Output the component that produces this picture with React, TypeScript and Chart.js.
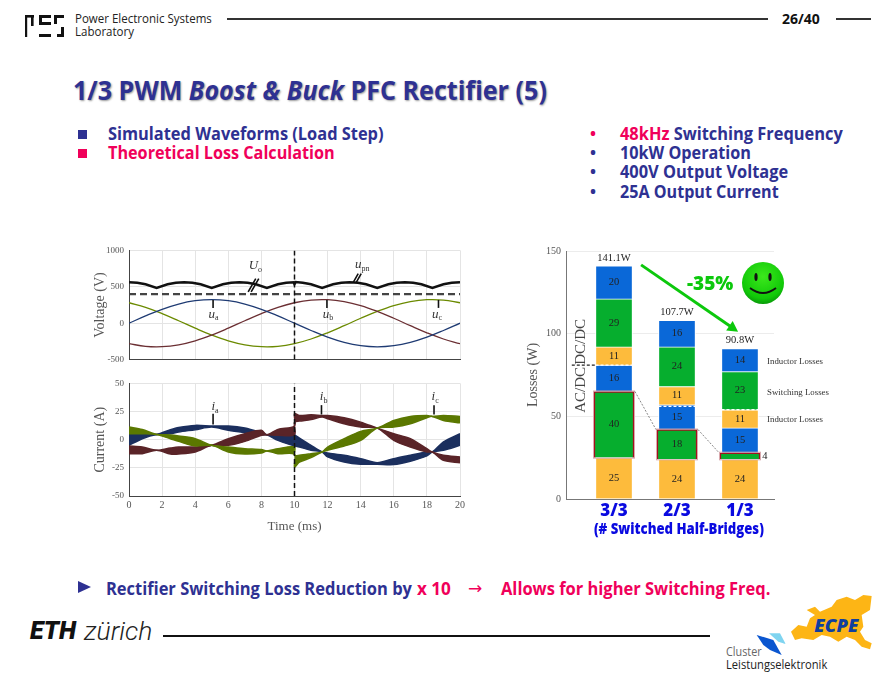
import { useEffect, useRef } from "react"
import Chart from "chart.js/auto"

const SERIF = "'Liberation Serif', serif"
const SANS = "'Open Sans', sans-serif"
const NAVY = "#2E3192"
const PINK = "#F0005A"
const AXIS_TEXT = "#555"

// waveforms (ms, V)
const voltageTimes = [0, 1, 2, 3, 4, 5, 6, 7, 8, 9, 10, 11, 12, 13, 14, 15, 16, 17, 18, 19, 20]
const ua = [0, 100, 191, 263, 309, 325, 309, 263, 191, 100, 0, -100, -191, -263, -309, -325, -309, -263, -191, -100, 0]
const ub = [-281, -318, -323, -297, -242, -163, -68, 34, 132, 217, 281, 318, 323, 297, 242, 163, 68, -34, -132, -217, -281]
const uc = [281, 217, 132, 34, -68, -163, -242, -297, -323, -318, -281, -217, -132, -34, 68, 163, 242, 297, 323, 318, 281]
const upnTimes = [0, 0.5, 1, 1.67, 2.33, 2.83, 3.33, 3.83, 4.33, 5, 5.67, 6.17, 6.67, 7.17, 7.67, 8.33, 9, 9.5, 9.95, 10, 10.08, 10.5, 11, 11.67, 12.33, 12.83, 13.33, 13.83, 14.33, 15, 15.67, 16.17, 16.67, 17.17, 17.67, 18.33, 19, 19.5, 20]
const upn = [563, 556, 535, 485, 535, 556, 563, 556, 535, 485, 535, 556, 563, 556, 535, 485, 535, 556, 563, 535, 566, 556, 535, 485, 535, 556, 563, 556, 535, 485, 535, 556, 563, 556, 535, 485, 535, 556, 563]
const uoTimes = [0, 20]
const uo = [400, 400]

// current envelopes (ms, A)
const currentTimes = [0, 0.8, 1.67, 2.5, 3, 4, 5, 6, 7, 8, 8.33, 9, 10, 10, 10.3, 11, 11.67, 12, 13, 14, 15, 16, 17, 18, 18.33, 19, 20]
const iaHigh = [5.3, 5.3, 4.7, 8.9, 10.9, 12.7, 12.1, 12.1, 10.3, 6.2, 4.4, 5.3, 4.4, 4.4, 1.5, -5, -10.9, -11.8, -13.8, -16.8, -20.4, -16.8, -13.8, -10.9, -10.9, -2, 5.3]
const iaLow = [-5, 0.9, 4.7, 5.3, 6.8, 8.9, 11.2, 8.3, 6.2, 4.4, 4.4, -0.6, -5.6, -5.6, -6.5, -9.4, -10.9, -15.3, -19.8, -21.8, -21.8, -22.1, -19.1, -14.4, -10.9, -9.4, -5]
const icHigh = [11.2, 9, 4.7, 4.2, 3.3, 0.9, -5, -6.5, -8, -8.8, -10, -8, -6.5, -13.8, -13.8, -12.4, -10.9, -6.5, 0.9, 7.4, 10.3, 17.1, 20.7, 21.5, 20.7, 21.5, 20.7]
const icLow = [5.3, 5.3, 4.7, 0.9, -1.5, -5.6, -5, -10.9, -12.7, -11.8, -10, -12.4, -13, -24.2, -20, -15.9, -10.9, -9.4, -5.6, -0.6, 10.3, 11.2, 14.2, 19.5, 20.7, 17.1, 15]
const ibHigh = [-5.6, -6.5, -9.4, -7.4, -6.5, -6.5, -5, 0.9, 5.3, 8.3, 4.4, 9.2, 12.1, 23, 21.5, 22.1, 21.5, 21.5, 19.5, 15.6, 10.3, 5.3, 0.9, -8, -10.9, -13.8, -15.3]
const ibLow = [-12.4, -12.4, -9.4, -12.7, -12.7, -10.9, -5, -5, -1.5, 3.9, 4.4, 3.9, 4.4, 15.6, 16.5, 18, 20.1, 18.6, 14.2, 11.2, 10.3, -0.6, -6.5, -10.9, -10.9, -18.3, -20.4]

// loss bars (W)
const barCategories = ["3/3", "2/3", "1/3"]
const barPositions = [1, 2, 3]
const rectifierInductor = [25, 24, 24]
const rectifierSwitching = [40, 18, 4]
const rectifierOther = [16, 15, 15]
const dcdcInductor = [11, 11, 11]
const dcdcSwitching = [29, 24, 23]
const dcdcOther = [20, 16, 14]
const barTotals = ["141.1W", "107.7W", "90.8W"]
const acDcBoundary = [81, 56, 54]

// [text, subscript, t, value, lead t0, lead v0, lead t1, lead v1]
const voltageNotes: any[] = [
  ["U", "o", 7.8, 790, 7.2, 430, 7.66, 613],
  ["u", "pn", 14.05, 800, 13.55, 562, 13.85, 680],
  ["u", "a", 5.2, 122, 5.08, 320, 5.08, 210],
  ["u", "b", 12.1, 122, 11.96, 320, 11.96, 210],
  ["u", "c", 18.7, 122, 18.7, 320, 18.7, 210],
]
const currentNotes: any[] = [
  ["i", "a", 5.2, 29, 5.08, 13.5, 5.08, 23],
  ["i", "b", 11.75, 38, 11.63, 22.4, 11.63, 30.7],
  ["i", "c", 18.5, 38, 18.43, 22.4, 18.43, 30.7],
]

const zip = (xs: number[], ys: number[]) => xs.map((x, i) => ({ x, y: ys[i] }))

function drawNotes(chart: any, notes: any[]) {
  const { ctx, scales } = chart
  ctx.save()
  ctx.textBaseline = "middle"
  ctx.textAlign = "left"
  ctx.fillStyle = "#333"
  ctx.strokeStyle = "#111"
  for (const [main, sub, t, v, t0, v0, t1, v1] of notes) {
    const x = scales.x.getPixelForValue(t)
    const y = scales.y.getPixelForValue(v)
    ctx.font = `italic 13px ${SERIF}`
    const w = ctx.measureText(main).width
    ctx.fillText(main, x - w, y)
    ctx.font = `8px ${SERIF}`
    ctx.fillText(sub, x, y + 4)
    const ax = scales.x.getPixelForValue(t0)
    const ay = scales.y.getPixelForValue(v0)
    const bx = scales.x.getPixelForValue(t1)
    const by = scales.y.getPixelForValue(v1)
    ctx.lineWidth = 1.6
    ctx.beginPath()
    ctx.moveTo(ax, ay)
    ctx.lineTo(bx, by)
    if (t0 !== t1) {
      // the slanted leads are doubled in the source
      ctx.moveTo(ax + 3, ay)
      ctx.lineTo(bx + 3, by)
    }
    ctx.stroke()
  }
  ctx.restore()
}

function waveformScales(yMin: number, yMax: number, yStep: number, yTitle: string, showX: boolean, bottom: number, yWidth: number) {
  return {
    x: {
      type: "linear",
      min: 0,
      max: 20,
      ticks: { stepSize: 2, display: showX, color: AXIS_TEXT, font: { family: SERIF, size: 10 }, maxRotation: 0, padding: 3 },
      grid: { color: "#e4e4e4", drawTicks: false },
      border: { color: "#444" },
      title: { display: showX, text: "Time (ms)", color: AXIS_TEXT, font: { family: SERIF, size: 13 }, padding: { top: 4, bottom: 4 } },
      afterFit: (s: any) => { s.height = bottom },
    },
    y: {
      min: yMin,
      max: yMax,
      ticks: { stepSize: yStep, color: AXIS_TEXT, font: { family: SERIF, size: 9 }, padding: 5, callback: (v: number) => String(v) },
      grid: { color: "#e4e4e4", drawTicks: false },
      border: { color: "#444" },
      title: { display: true, text: yTitle, color: AXIS_TEXT, font: { family: SERIF, size: 14 }, padding: { top: 7, bottom: 0 } },
      afterFit: (s: any) => { s.width = yWidth },
    },
  }
}

const baseOptions = {
  responsive: false,
  animation: false,
  plugins: { legend: { display: false }, tooltip: { enabled: false } },
  elements: { point: { radius: 0 } },
}

function voltageConfig(): any {
  const line = (data: any[], color: string, width: number, extra = {}) => ({
    data,
    borderColor: color,
    borderWidth: width,
    pointRadius: 0,
    ...extra,
  })
  return {
    type: "line",
    data: {
      datasets: [
        line(zip([10, 10], [-500, 1000]), "#111", 1.5, { borderDash: [5, 3] }),
        line(zip(upnTimes, upn), "#111", 2.4),
        line(zip(uoTimes, uo), "#444", 2.2, { borderDash: [7, 4] }),
        line(zip(voltageTimes, ua), "#1F3B73", 1.3, { tension: 0.4 }),
        line(zip(voltageTimes, ub), "#6B2F33", 1.3, { tension: 0.4 }),
        line(zip(voltageTimes, uc), "#6B8A00", 1.3, { tension: 0.4 }),
      ],
    },
    options: {
      ...baseOptions,
      layout: { padding: { top: 10, right: 10, left: 0, bottom: 0 } },
      scales: waveformScales(-500, 1000, 500, "Voltage (V)", false, 6, 44),
    },
    plugins: [{ id: "notes", afterDatasetsDraw: (c: any) => drawNotes(c, voltageNotes) }],
  }
}

function currentConfig(): any {
  const band = (low: number[], high: number[], color: string) => [
    { data: zip(currentTimes, low), borderWidth: 1.5, borderColor: color, pointRadius: 0, fill: false, tension: 0.3 },
    { data: zip(currentTimes, high), borderWidth: 1.5, borderColor: color, backgroundColor: color, pointRadius: 0, fill: "-1", tension: 0.3 },
  ]
  return {
    type: "line",
    data: {
      datasets: [
        { data: zip([10, 10], [-50, 50]), borderColor: "#111", borderWidth: 1.5, borderDash: [5, 3], pointRadius: 0, fill: false },
        ...band(icLow, icHigh, "#5B7800"),
        ...band(ibLow, ibHigh, "#5A2428"),
        ...band(iaLow, iaHigh, "#1B2F5E"),
      ],
    },
    options: {
      ...baseOptions,
      layout: { padding: { top: 10, right: 10, left: 0, bottom: 0 } },
      scales: waveformScales(-50, 50, 25, "Current (A)", true, 42, 44),
    },
    plugins: [{ id: "notes", afterDatasetsDraw: (c: any) => drawNotes(c, currentNotes) }],
  }
}

function barOverlay(chart: any) {
  const { ctx, scales } = chart
  const px = (v: number) => scales.x.getPixelForValue(v)
  const py = (v: number) => scales.y.getPixelForValue(v)
  const stacks = [rectifierInductor, rectifierSwitching, rectifierOther, dcdcInductor, dcdcSwitching, dcdcOther]
  const halfBar = 18.5

  ctx.save()
  ctx.textAlign = "center"
  ctx.textBaseline = "middle"
  ctx.fillStyle = "#222"
  ctx.font = `10.5px ${SERIF}`
  barPositions.forEach((pos, i) => {
    let base = 0
    for (const stack of stacks) {
      const value = stack[i]
      const y = py(base + value / 2)
      if (value < 8) ctx.fillText(String(value), px(pos) + 25, y)
      else ctx.fillText(String(value), px(pos), y)
      base += value
    }
    ctx.fillText(barTotals[i], px(pos), py(base) - 8)
  })

  // pale edge round the rectifier switching boxes and the dotted links between them
  const meta = chart.getDatasetMeta(1)
  ctx.strokeStyle = "#d9a9ad"
  ctx.lineWidth = 1
  meta.data.forEach((bar: any) => {
    ctx.strokeRect(bar.x - 20.5, bar.y - 0.5, 41, bar.base - bar.y + 1)
  })
  ctx.strokeStyle = "#555"
  ctx.lineWidth = 0.7
  ctx.setLineDash([2, 1.5])
  for (let i = 0; i < 2; i++) {
    ctx.beginPath()
    ctx.moveTo(meta.data[i].x + 21, meta.data[i].y)
    ctx.lineTo(meta.data[i + 1].x - 21, meta.data[i + 1].y)
    ctx.stroke()
  }

  // AC/DC | DC/DC split
  ctx.strokeStyle = "#222"
  ctx.lineWidth = 1.2
  ctx.setLineDash([3, 2])
  ctx.beginPath()
  ctx.moveTo(px(0.33), py(acDcBoundary[0]))
  ctx.lineTo(px(1) - halfBar, py(acDcBoundary[0]))
  ctx.stroke()
  ctx.strokeStyle = "#fff"
  barPositions.forEach((pos, i) => {
    ctx.beginPath()
    ctx.moveTo(px(pos) - halfBar, py(acDcBoundary[i]))
    ctx.lineTo(px(pos) + halfBar, py(acDcBoundary[i]))
    ctx.stroke()
  })
  ctx.setLineDash([])

  ctx.fillStyle = "#444"
  ctx.font = `15px ${SERIF}`
  for (const [text, v] of [["DC/DC", 95], ["AC/DC", 66]] as [string, number][]) {
    ctx.save()
    ctx.translate(px(0.47), py(v))
    ctx.rotate(-Math.PI / 2)
    ctx.fillText(text, 0, 0)
    ctx.restore()
  }

  ctx.textAlign = "left"
  ctx.fillStyle = "#333"
  ctx.font = `8.8px ${SERIF}`
  ctx.fillText("Inductor Losses", px(3.43), py(83.3))
  ctx.fillText("Switching Losses", px(3.43), py(64.6))
  ctx.fillText("Inductor Losses", px(3.43), py(47.8))

  // reduction arrow
  const x0 = px(1.43)
  const y0 = py(141.6)
  const x1 = px(2.97)
  const y1 = py(101.2)
  const a = Math.atan2(y1 - y0, x1 - x0)
  ctx.strokeStyle = "#0CC80C"
  ctx.fillStyle = "#0CC80C"
  ctx.lineWidth = 3
  ctx.beginPath()
  ctx.moveTo(x0, y0)
  ctx.lineTo(x1 - 6 * Math.cos(a), y1 - 6 * Math.sin(a))
  ctx.stroke()
  ctx.beginPath()
  ctx.moveTo(x1, y1)
  ctx.lineTo(x1 - 12 * Math.cos(a - 0.5), y1 - 12 * Math.sin(a - 0.5))
  ctx.lineTo(x1 - 12 * Math.cos(a + 0.5), y1 - 12 * Math.sin(a + 0.5))
  ctx.closePath()
  ctx.fill()

  ctx.textAlign = "center"
  ctx.fillStyle = "#0A0AE0"
  ctx.font = `800 15px ${SANS}`
  ctx.fillText("(# Switched Half-Bridges)", px(2.03), py(-18.7), 170)
  ctx.restore()
}

function barConfig(): any {
  const segment = (values: number[], color: string, extra = {}) => ({
    data: zip(barPositions, values),
    backgroundColor: color,
    borderColor: "#fff",
    borderWidth: 1,
    barThickness: 37,
    ...extra,
  })
  return {
    type: "bar",
    data: {
      datasets: [
        segment(rectifierInductor, "#FDBB3C"),
        segment(rectifierSwitching, "#06AE2E", { borderColor: "#A50F1E", borderWidth: 1.5, barThickness: 40 }),
        segment(rectifierOther, "#0A68D8"),
        segment(dcdcInductor, "#FDBB3C"),
        segment(dcdcSwitching, "#06AE2E"),
        segment(dcdcOther, "#0A68D8"),
      ],
    },
    options: {
      ...baseOptions,
      layout: { padding: { top: 10, right: 86, left: 0, bottom: 0 } },
      scales: {
        x: {
          type: "linear",
          stacked: true,
          offset: false,
          min: 0.238,
          max: 3.54,
          afterBuildTicks: (s: any) => { s.ticks = barPositions.map((value) => ({ value })) },
          ticks: {
            autoSkip: false,
            maxRotation: 0,
            padding: 2,
            color: "#0A0AE0",
            font: { family: SANS, size: 17, weight: "800" },
            callback: (v: number) => barCategories[barPositions.indexOf(v)],
          },
          grid: { display: false, drawTicks: false },
          border: { color: "#777" },
          afterFit: (s: any) => { s.height = 46 },
        },
        y: {
          stacked: true,
          min: 0,
          max: 150,
          ticks: { stepSize: 50, color: AXIS_TEXT, font: { family: SERIF, size: 10 }, padding: 5 },
          grid: { color: "#ececec", drawTicks: false },
          border: { color: "#777" },
          title: { display: true, text: "Losses (W)", color: AXIS_TEXT, font: { family: SERIF, size: 14 }, padding: { top: 5, bottom: 0 } },
          afterFit: (s: any) => { s.width = 46 },
        },
      },
    },
    plugins: [{ id: "overlay", afterDatasetsDraw: barOverlay }],
  }
}

function ChartCanvas({ left, top, width, height, config }: any) {
  const ref = useRef<HTMLCanvasElement>(null)
  useEffect(() => {
    const chart = new Chart(ref.current!, config())
    return () => chart.destroy()
  }, [config])
  return <canvas ref={ref} width={width} height={height} style={{ position: "absolute", left, top, width, height }} />
}

function Txt({ x, y, size, color = NAVY, weight = 700, sx = 1, italic = false, family = SANS, shadow, children }: any) {
  return (
    <div
      style={{
        position: "absolute",
        left: x,
        top: y,
        transform: `translateY(-50%) scaleX(${sx})`,
        transformOrigin: "left center",
        fontFamily: family,
        fontSize: size,
        fontWeight: weight,
        fontStyle: italic ? "italic" : "normal",
        color,
        lineHeight: 1,
        whiteSpace: "nowrap",
        textShadow: shadow,
      }}
    >
      {children}
    </div>
  )
}

function Box({ x, y, w, h, color }: any) {
  return <div style={{ position: "absolute", left: x, top: y, width: w, height: h, background: color }} />
}

function PesLogo() {
  const bars = [
    [25, 15, 9, 2.6], [25, 15, 2.2, 22], [31, 15, 2.6, 11],
    [39, 15, 12, 3], [39, 15, 3, 9], [39, 22, 12, 3], [39, 34, 12, 3],
    [54, 15, 10, 3], [54, 15, 3, 9], [57, 34, 7, 3], [61, 27, 3, 10],
  ]
  return (
    <svg style={{ position: "absolute", left: 0, top: 0 }} width={80} height={45} viewBox="0 0 80 45">
      {bars.map(([x, y, w, h], i) => <rect key={i} x={x} y={y} width={w} height={h} fill="#111" />)}
    </svg>
  )
}

function Smiley() {
  return (
    <svg style={{ position: "absolute", left: 741, top: 261 }} width={44} height={44} viewBox="0 0 44 44">
      <defs>
        <radialGradient id="face" cx="50%" cy="35%" r="65%">
          <stop offset="0%" stopColor="#3CE81C" />
          <stop offset="80%" stopColor="#10C808" />
          <stop offset="100%" stopColor="#0A9A0A" />
        </radialGradient>
      </defs>
      <circle cx={22} cy={22} r={21} fill="url(#face)" />
      <ellipse cx={15} cy={16} rx={1.6} ry={4} fill="#111" />
      <ellipse cx={29} cy={16} rx={1.6} ry={4} fill="#111" />
      <path d="M9 27 Q22 37 35 27" stroke="#111" strokeWidth={1.8} fill="none" />
    </svg>
  )
}

function ClusterLogo() {
  return (
    <svg style={{ position: "absolute", left: 715, top: 590 }} width={168} height={85} viewBox="0 0 504 255">
      <path
        d="M228 125 L250 105 L275 110 L285 85 L300 75 L275 60 L300 50 L315 65 L350 50 L365 30 L395 20 L420 30 L445 15 L470 18 L465 60 L440 75 L445 110 L435 125 L450 150 L470 160 L465 178 L440 170 L420 150 L395 140 L370 155 L345 140 L320 135 L295 150 L260 145 L240 150 Z"
        fill="#FDB515"
      />
      <path d="M125 135 L175 150 L200 195 L165 180 L145 165 Z" fill="#0A56D0" />
      <path d="M162 130 L195 130 L212 162 L190 155 Z" fill="#7FD4F0" />
      <text x={298} y={125} fontFamily={SANS} fontSize={52} fontWeight={800} fontStyle="italic" fill="#0F3F9F" textLength={132} lengthAdjust="spacingAndGlyphs">ECPE</text>
    </svg>
  )
}

export default function App() {
  return (
    <div style={{ position: "absolute", left: 0, top: 0, width: 883, height: 681, background: "#fff", overflow: "hidden" }}>
      <PesLogo />
      <Txt x={75} y={19} size={12} color="#222" weight={400} sx={0.96}>Power Electronic Systems</Txt>
      <Txt x={75} y={32} size={12} color="#222" weight={400} sx={0.96}>Laboratory</Txt>
      <Box x={227} y={18} w={541} h={2} color="#333" />
      <Txt x={782} y={19} size={14} color="#111" sx={1}>26/40</Txt>
      <Box x={836} y={18} w={35} h={2} color="#333" />

      <Txt x={73} y={89} size={27} sx={0.93} shadow="1px 1px 2px #999">
        1/3 PWM <i>Boost &amp; Buck</i> PFC Rectifier (5)
      </Txt>

      <Box x={78} y={130} w={9} h={9} color={NAVY} />
      <Txt x={108} y={133} size={18} sx={0.91}>Simulated Waveforms (Load Step)</Txt>
      <Box x={78} y={149} w={9} h={9} color={PINK} />
      <Txt x={108} y={152} size={18} color={PINK} sx={0.9}>Theoretical Loss Calculation</Txt>

      <Txt x={590} y={133} size={16} color={PINK}>•</Txt>
      <Txt x={620} y={133} size={18} sx={0.91}><span style={{ color: PINK }}>48kHz</span> Switching Frequency</Txt>
      <Txt x={590} y={152} size={16}>•</Txt>
      <Txt x={620} y={152} size={18} sx={0.9}>10kW Operation</Txt>
      <Txt x={590} y={171} size={16}>•</Txt>
      <Txt x={620} y={171} size={18} sx={0.91}>400V Output Voltage</Txt>
      <Txt x={590} y={191} size={16}>•</Txt>
      <Txt x={620} y={191} size={18} sx={0.895}>25A Output Current</Txt>

      <ChartCanvas left={85} top={240} width={385} height={130} config={voltageConfig} />
      <ChartCanvas left={85} top={373} width={385} height={165} config={currentConfig} />
      <ChartCanvas left={520} top={240} width={340} height={305} config={barConfig} />
      <Smiley />
      <Txt x={687} y={283} size={19} color="#0CC80C" weight={800}>-35%</Txt>

      <div style={{ position: "absolute", left: 78, top: 581, width: 0, height: 0, borderTop: "6px solid transparent", borderBottom: "6px solid transparent", borderLeft: `13px solid ${NAVY}` }} />
      <Txt x={106} y={588} size={18} sx={0.915}>Rectifier Switching Loss Reduction by</Txt>
      <Txt x={417} y={588} size={18} color={PINK} sx={0.95}>x 10</Txt>
      <Txt x={468} y={588} size={17} color={PINK} family="'DejaVu Sans', sans-serif" weight={400}>→</Txt>
      <Txt x={501} y={588} size={18} color={PINK} sx={0.915}>Allows for higher Switching Freq.</Txt>

      <Txt x={30} y={630} size={25} color="#111" weight={900} italic family="Roboto, sans-serif">ETH</Txt>
      <Txt x={84} y={631} size={25} color="#222" weight={300} italic family="Roboto, sans-serif" sx={1.06}>zürich</Txt>
      <Box x={163} y={635} w={547} h={1.5} color="#111" />

      <ClusterLogo />
      <Txt x={726} y={652} size={12} color="#666" weight={400} sx={0.9}>Cluster</Txt>
      <Txt x={726} y={665} size={12} color="#222" weight={500} sx={0.93}>Leistungselektronik</Txt>
    </div>
  )
}
